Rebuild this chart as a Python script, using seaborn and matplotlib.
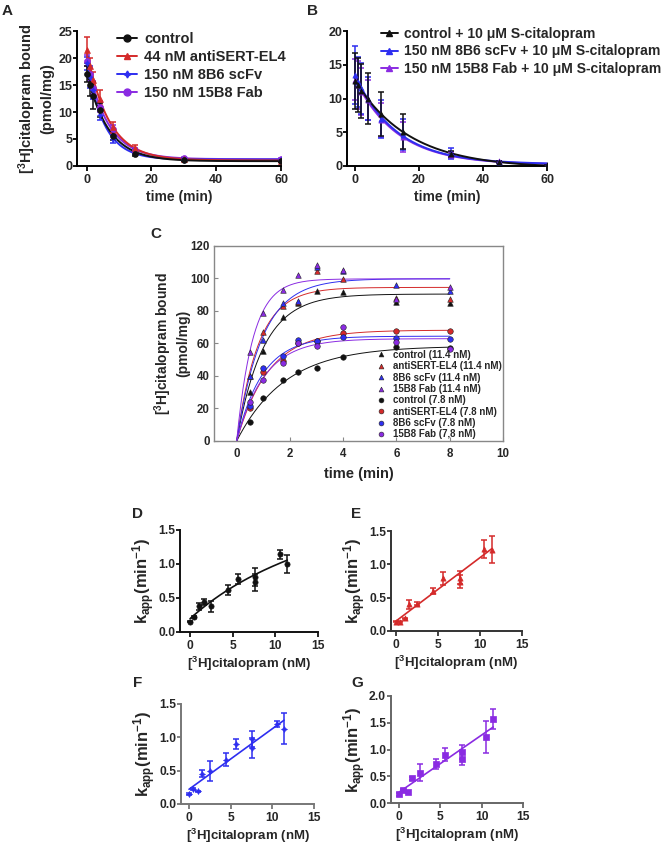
import numpy as np
import seaborn as sns
import matplotlib.pyplot as plt
from matplotlib.lines import Line2D

sns.set_style("ticks")
plt.rcParams['font.family'] = ['Liberation Sans', 'DejaVu Sans']
plt.rcParams['font.weight'] = 'bold'
plt.rcParams['axes.labelweight'] = 'bold'
plt.rcParams['mathtext.fontset'] = 'custom'
plt.rcParams['mathtext.rm'] = 'Liberation Sans:bold'
plt.rcParams['mathtext.it'] = 'Liberation Sans:bold'
plt.rcParams['mathtext.bf'] = 'Liberation Sans:bold'
plt.rcParams['mathtext.default'] = 'rm'

BLACK = '#111111'
RED = '#d42a2a'
BLUE = '#2e2ef0'
PURPLE = '#8a2be2'
STAR4 = (4, 1, 0)

# ---- A: dissociation, no S-citalopram ----
time_a = [0, 1, 2, 4, 8, 15, 30, 60]
a_control = [17.0, 15.0, 13.0, 10.3, 5.6, 2.3, 1.2, 1.0]
a_control_err = [1.5, 2.0, 2.5, 1.3, 0.8, 0.4, 0.2, 0.2]
a_el4 = [21.5, 18.5, 16.0, 12.5, 7.2, 3.3, 1.3, 1.0]
a_el4_err = [2.4, 1.5, 1.5, 1.5, 1.0, 0.6, 0.2, 0.2]
a_8b6 = [19.0, 16.5, 14.0, 9.5, 5.0, 2.7, 1.2, 1.1]
a_8b6_err = [1.2, 2.0, 1.5, 1.0, 0.8, 0.4, 0.2, 0.2]
a_15b8 = [19.5, 17.0, 14.5, 11.0, 6.8, 3.0, 1.4, 1.3]
a_15b8_err = [1.0, 1.2, 1.2, 1.0, 0.8, 0.4, 0.2, 0.2]

# ---- B: dissociation + 10 uM S-citalopram ----
time_b = [0, 1, 2, 4, 8, 15, 30, 45, 60]
b_control = [12.6, 12.0, 11.1, 10.0, 7.7, 5.1, 1.8, 0.6, 0.1]
b_control_err = [4.2, 4.0, 4.0, 3.8, 3.2, 2.6, 0.4, 0.1, 0.1]
b_8b6 = [13.5, 12.5, 11.5, 10.0, 7.0, 4.6, 1.9, 0.6, 0.2]
b_8b6_err = [4.3, 3.7, 3.8, 3.2, 2.8, 2.3, 0.8, 0.1, 0.1]
b_15b8 = [12.8, 12.0, 11.0, 9.8, 6.8, 4.3, 1.6, 0.7, 0.2]
b_15b8_err = [3.0, 3.5, 3.5, 3.0, 2.5, 2.2, 0.4, 0.1, 0.1]

# ---- C: association ----
time_c = [0.5, 1, 1.75, 2.3, 3, 4, 6, 8]
c_hi_control = [30, 55.4, 76.5, 85, 92.3, 91.9, 85.7, 84.7]
c_hi_el4 = [40, 66.9, 83, 85.7, 104.6, 99.5, 87.8, 87.2]
c_hi_8b6 = [40.2, 62, 85, 86, 107, 104.5, 96, 92]
c_hi_15b8 = [55, 79, 93, 102, 108, 105.5, 87.5, 95]
c_lo_control = [11.5, 26.5, 37.3, 42.3, 45.1, 51.5, 58, 57]
c_lo_el4 = [20.5, 42.7, 49.4, 60, 61.5, 66.3, 67.9, 67.9]
c_lo_8b6 = [21.5, 44.7, 52.3, 62.2, 61.5, 64.2, 63.2, 63]
c_lo_15b8 = [24.2, 37.5, 48.2, 60.1, 58.5, 70.4, 61.1, 56.8]
c_labels = ['control (11.4 nM)', 'antiSERT-EL4 (11.4 nM)', '8B6 scFv (11.4 nM)',
            '15B8 Fab (11.4 nM)', 'control (7.8 nM)', 'antiSERT-EL4 (7.8 nM)',
            '8B6 scFv (7.8 nM)', '15B8 Fab (7,8 nM)']

# ---- D-G: kapp vs [3H]citalopram ----
conc = [0, 0.45, 1.05, 1.6, 2.5, 4.45, 5.6, 7.6, 7.6, 10.5, 11.4]
kapp_d = [0.15, 0.22, 0.38, 0.44, 0.38, 0.62, 0.78, 0.81, 0.73, 1.14, 1.00]
err_d = [0.01, 0.02, 0.05, 0.04, 0.08, 0.07, 0.07, 0.13, 0.12, 0.07, 0.13]
kapp_e = [0.14, 0.14, 0.19, 0.40, 0.41, 0.60, 0.79, 0.80, 0.74, 1.23, 1.22]
err_e = [0.01, 0.01, 0.01, 0.07, 0.02, 0.04, 0.10, 0.10, 0.10, 0.14, 0.20]
kapp_f = [0.15, 0.225, 0.19, 0.455, 0.49, 0.665, 0.90, 0.975, 0.84, 1.20, 1.13]
err_f = [0.01, 0.02, 0.01, 0.05, 0.15, 0.10, 0.08, 0.12, 0.15, 0.04, 0.23]
kapp_g = [0.16, 0.24, 0.21, 0.46, 0.57, 0.73, 0.90, 0.95, 0.83, 1.24, 1.57]
err_g = [0.02, 0.02, 0.02, 0.03, 0.15, 0.10, 0.12, 0.13, 0.12, 0.30, 0.18]


def fit_decay(t, y):
    # y = plateau + span*exp(-k t), grid on k, least squares for the rest
    t = np.asarray(t, float); y = np.asarray(y, float)
    best = None
    for k in np.linspace(0.005, 1.5, 1500):
        X = np.column_stack([np.ones_like(t), np.exp(-k * t)])
        coef = np.linalg.lstsq(X, y, rcond=None)[0]
        sse = np.sum((X @ coef - y) ** 2)
        if best is None or sse < best[0]:
            best = (sse, k, coef)
    return lambda x: best[2][0] + best[2][1] * np.exp(-best[1] * x)


def fit_assoc(t, y):
    t = np.asarray(t, float); y = np.asarray(y, float)
    best = None
    for k in np.linspace(0.05, 5, 1500):
        f = 1 - np.exp(-k * t)
        ymax = np.dot(f, y) / np.dot(f, f)
        sse = np.sum((ymax * f - y) ** 2)
        if best is None or sse < best[0]:
            best = (sse, k, ymax)
    return lambda x: best[2] * (1 - np.exp(-best[1] * x))


def fit_hyper(x, y):
    x = np.asarray(x, float); y = np.asarray(y, float)
    best = None
    for c in np.linspace(0.5, 60, 1200):
        X = np.column_stack([np.ones_like(x), x / (c + x)])
        coef = np.linalg.lstsq(X, y, rcond=None)[0]
        sse = np.sum((X @ coef - y) ** 2)
        if best is None or sse < best[0]:
            best = (sse, c, coef)
    return lambda v: best[2][0] + best[2][1] * v / (best[1] + v)


def fit_line(x, y):
    p = np.polyfit(x, y, 1)
    return lambda v: np.polyval(p, v)


def prism(ax, spine_color='black', labelsize=9):
    sns.despine(ax=ax)
    for s in ['left', 'bottom']:
        ax.spines[s].set_linewidth(1.4)
        ax.spines[s].set_color(spine_color)
    ax.tick_params(direction='out', width=1.3, labelsize=labelsize, color=spine_color)
    ax.tick_params(axis='y', length=3, pad=0.5)
    ax.tick_params(axis='x', length=3.5, pad=2)


def draw_series(ax, x, y, err, fit, color, marker, xmax, s=18, lw=1.4, cap=2.5):
    xs = np.linspace(0, xmax, 300)
    sns.lineplot(x=xs, y=fit(xs), ax=ax, color=color, lw=lw, estimator=None, sort=False)
    ax.errorbar(x, y, yerr=err, fmt='none', ecolor=color, elinewidth=1.1,
                capsize=cap, capthick=1.1, zorder=3)
    sns.scatterplot(x=x, y=y, ax=ax, color=color, marker=marker, s=s,
                    edgecolor=color, linewidth=0.5, zorder=4)


fig = plt.figure(figsize=(6.68, 8.43), dpi=100)

# ---------- A ----------
axA = fig.add_axes([0.1153, 0.8031, 0.3054, 0.1601])
series_a = [(a_15b8, a_15b8_err, PURPLE, 'o', '150 nM 15B8 Fab'),
            (a_8b6, a_8b6_err, BLUE, STAR4, '150 nM 8B6 scFv'),
            (a_el4, a_el4_err, RED, '^', '44 nM antiSERT-EL4'),
            (a_control, a_control_err, BLACK, 'o', 'control')]
for y, e, c, m, lab in series_a:
    draw_series(axA, time_a, y, e, fit_decay(time_a, y), c, m, 60)
axA.set_xlim(-3, 60)
axA.set_ylim(0, 25)
axA.set_xticks([0, 20, 40, 60])
axA.set_yticks([0, 5, 10, 15, 20, 25])
prism(axA)
axA.set_xlabel('time (min)', fontsize=10, labelpad=3)
axA.set_ylabel('[$^3$H]citalopram bound\n(pmol/mg)', fontsize=10.5, labelpad=3,
               linespacing=1.2)
hA = [Line2D([], [], color=c, marker=m, ms=5, lw=1.4) for _, _, c, m, _ in series_a[::-1]]
axA.legend(hA, [lab for *_, lab in series_a[::-1]], loc='upper left',
           bbox_to_anchor=(0.175, 0.962), bbox_transform=fig.transFigure,
           frameon=False, fontsize=10.5, handlelength=1.4, handletextpad=0.45,
           labelspacing=0.27, borderpad=0, borderaxespad=0)

# ---------- B ----------
axB = fig.add_axes([0.5195, 0.8031, 0.2994, 0.1601])
series_b = [(b_15b8, b_15b8_err, PURPLE, '150 nM 15B8 Fab + 10 μM S-citalopram'),
            (b_8b6, b_8b6_err, BLUE, '150 nM 8B6 scFv + 10 μM S-citalopram'),
            (b_control, b_control_err, BLACK, 'control + 10 μM S-citalopram')]
for y, e, c, lab in series_b:
    draw_series(axB, time_b, y, e, fit_decay(time_b, y), c, '^', 60, s=14)
axB.set_xlim(-2.5, 60)
axB.set_ylim(0, 20)
axB.set_xticks([0, 20, 40, 60])
axB.set_yticks([0, 5, 10, 15, 20])
prism(axB)
axB.set_xlabel('time (min)', fontsize=10, labelpad=3)
hB = [Line2D([], [], color=c, marker='^', ms=4, lw=1.4) for _, _, c, _ in series_b[::-1]]
axB.legend(hB, [lab for *_, lab in series_b[::-1]], loc='upper left',
           bbox_to_anchor=(0.570, 0.968), bbox_transform=fig.transFigure,
           frameon=False, fontsize=10.1, handlelength=1.2, handletextpad=0.45,
           labelspacing=0.25, borderpad=0, borderaxespad=0)

# ---------- C ----------
axC = fig.add_axes([0.3204, 0.4769, 0.4326, 0.2313])
series_c = [(c_hi_control, BLACK, '^'), (c_hi_el4, RED, '^'), (c_hi_8b6, BLUE, '^'),
            (c_hi_15b8, PURPLE, '^'), (c_lo_control, BLACK, 'o'), (c_lo_el4, RED, 'o'),
            (c_lo_8b6, BLUE, 'o'), (c_lo_15b8, PURPLE, 'o')]
xs = np.linspace(0, 8, 300)
for y, c, m in series_c:
    f = fit_assoc(time_c, y)
    sns.lineplot(x=xs, y=f(xs), ax=axC, color=c, lw=0.7, estimator=None, sort=False)
for y, c, m in series_c:
    sns.scatterplot(x=time_c, y=y, ax=axC, color=c, marker=m, s=16,
                    edgecolor='#222222', linewidth=0.4, zorder=4)
axC.set_xlim(-0.85, 10)
axC.set_ylim(0, 120)
axC.set_xticks(range(0, 11, 2))
axC.set_yticks(range(0, 121, 20))
for s in axC.spines.values():
    s.set_color('#888888')
    s.set_linewidth(1.0)
axC.tick_params(direction='in', length=3, width=0.8, color='#888888', labelsize=8.3)
axC.tick_params(axis='y', pad=3)
axC.tick_params(axis='x', pad=5)
axC.set_xlabel('time (min)', fontsize=10.5, labelpad=5)
axC.set_ylabel('[$^3$H]citalopram bound\n(pmol/mg)', fontsize=10, labelpad=0,
               linespacing=1.22)
hC = [Line2D([], [], ls='none', color=c, marker=m, ms=3.5, mec='#222222', mew=0.4)
      for _, c, m in series_c]
axC.legend(hC, c_labels, loc='upper left', bbox_to_anchor=(0.564, 0.585),
           bbox_transform=fig.transFigure, frameon=False, fontsize=7,
           handlelength=0.8, handletextpad=0.9, labelspacing=0.14,
           borderpad=0, borderaxespad=0)

# ---------- D-G ----------
kin_panels = [
    ([0.2695, 0.2503, 0.2066, 0.1210], kapp_d, err_d, fit_hyper, BLACK, 'o', BLACK, -1.17, 1.5),
    ([0.5853, 0.2515, 0.1961, 0.1186], kapp_e, err_e, fit_line, RED, '^', '#333333', -0.6, 1.5),
    ([0.2710, 0.0463, 0.1991, 0.1186], kapp_f, err_f, fit_line, BLUE, STAR4, '#777777', -0.96, 1.5),
    ([0.5853, 0.0474, 0.1976, 0.1270], kapp_g, err_g, fit_line, PURPLE, 's', '#666666', -0.97, 2.0),
]
for rect, y, e, fitter, c, m, sc, x0, ytop in kin_panels:
    ax = fig.add_axes(rect)
    draw_series(ax, conc, y, e, fitter(conc, y), c, m, max(conc),
                s=14 if m != STAR4 else 18, lw=1.2, cap=2.5)
    ax.set_xlim(x0, 15)
    ax.set_ylim(0, ytop)
    ax.set_xticks([0, 5, 10, 15])
    ax.set_yticks(np.arange(0, ytop + 0.01, 0.5))
    ax.set_yticklabels([f'{v:.1f}' for v in np.arange(0, ytop + 0.01, 0.5)])
    prism(ax, sc, labelsize=8.7)
    ax.set_xlabel('[$^3$H]citalopram (nM)', fontsize=9.5, labelpad=2)
    ax.set_ylabel('k$_{app}$(min$^{-1}$)', fontsize=12, labelpad=0.5)

# panel letters
for lab, x, y in [('A', 2, 4), ('B', 307, 4), ('C', 150, 227), ('D', 132, 507),
                  ('E', 351, 507), ('F', 133, 676), ('G', 351, 676)]:
    fig.text(x / 668, 1 - y / 843, lab, fontsize=11, fontweight='bold', va='top', ha='left')

fig.savefig('out.png', dpi=100)
